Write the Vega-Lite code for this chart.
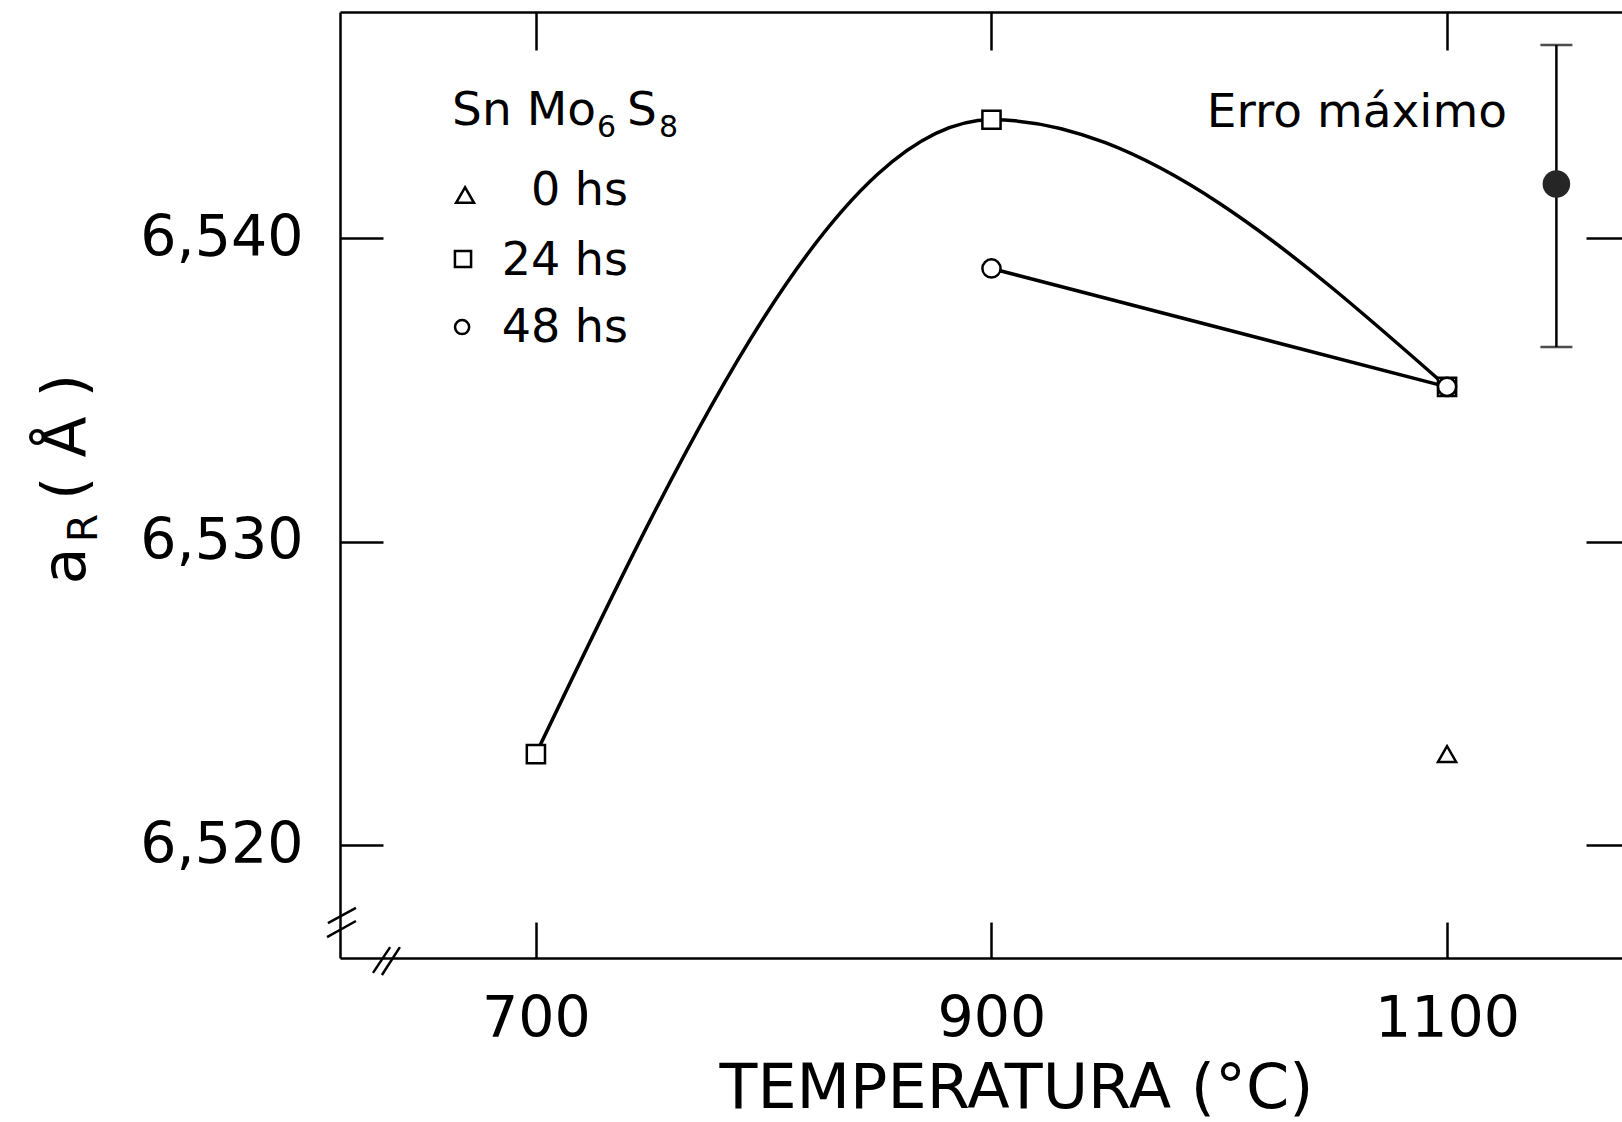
{
  "$schema": "https://vega.github.io/schema/vega-lite/v6.json",
  "width": 1282,
  "height": 946,
  "autosize": {"type": "none"},
  "padding": {"left": 340, "top": 12, "right": 0, "bottom": 164},
  "background": "white",
  "config": {
    "font": "DejaVu Sans",
    "view": {"stroke": null},
    "text": {"font": "DejaVu Sans", "color": "black"},
    "axis": {
      "domainColor": "black",
      "domainWidth": 2.5,
      "tickColor": "black",
      "tickWidth": 2.5,
      "labelColor": "black",
      "titleColor": "black",
      "labelFont": "DejaVu Sans",
      "titleFont": "DejaVu Sans",
      "titleFontWeight": "normal",
      "grid": false
    }
  },
  "data": {"values": [{}]},
  "datasets": {
    "medidas": [
      {"temp": 700, "a": 6.5230, "amostra": "24 hs"},
      {"temp": 900, "a": 6.5439, "amostra": "24 hs"},
      {"temp": 1100, "a": 6.5351, "amostra": "24 hs"},
      {"temp": 900, "a": 6.5390, "amostra": "48 hs"},
      {"temp": 1100, "a": 6.5351, "amostra": "48 hs"},
      {"temp": 1100, "a": 6.5230, "amostra": "0 hs"}
    ],
    "erro": [
      {"temp": 1148, "inferior": 6.53641, "superior": 6.54636, "centro": 6.54178}
    ]
  },
  "resolve": {"axis": {"x": "independent", "y": "independent"}},
  "layer": [
    {
      "data": {"name": "medidas"},
      "transform": [{"filter": "datum.amostra !== '0 hs'"}],
      "mark": {"type": "line", "interpolate": "monotone", "color": "black", "strokeWidth": 3.5},
      "encoding": {
        "x": {
          "field": "temp",
          "type": "quantitative",
          "scale": {"domain": [614, 1176.8], "nice": false, "zero": false},
          "axis": {
            "orient": "bottom",
            "values": [700, 900, 1100],
            "format": "d",
            "tickSize": -36,
            "labelFontSize": 57,
            "labelPadding": 69,
            "labelFlush": false,
            "title": "TEMPERATURA (°C)",
            "titleFontSize": 62,
            "titlePadding": 11,
            "titleX": 676
          }
        },
        "y": {
          "field": "a",
          "type": "quantitative",
          "scale": {"domain": [6.51628, 6.54745], "nice": false, "zero": false},
          "axis": {
            "orient": "left",
            "values": [6.52, 6.53, 6.54],
            "labelExpr": "replace(format(datum.value, '.3f'), '.', ',')",
            "tickSize": -43,
            "labelFontSize": 57,
            "labelPadding": 80,
            "labelFlush": false,
            "title": null
          }
        },
        "detail": {"field": "amostra"}
      }
    },
    {
      "data": {"name": "medidas"},
      "mark": {"type": "point", "filled": true, "fill": "white", "stroke": "black", "strokeWidth": 2.5, "size": 330, "opacity": 1},
      "encoding": {
        "x": {
          "field": "temp",
          "type": "quantitative",
          "axis": {"orient": "top", "values": [700, 900, 1100], "tickSize": -38, "labels": false, "title": null}
        },
        "y": {
          "field": "a",
          "type": "quantitative",
          "axis": {"orient": "right", "values": [6.52, 6.53, 6.54], "tickSize": -36, "labels": false, "domain": false, "title": null}
        },
        "shape": {
          "field": "amostra",
          "type": "nominal",
          "scale": {"domain": ["0 hs", "24 hs", "48 hs"], "range": ["triangle-up", "square", "circle"]},
          "legend": null
        }
      }
    },
    {
      "data": {"name": "erro"},
      "mark": {"type": "rule", "color": "black", "strokeWidth": 2.5},
      "encoding": {
        "x": {"field": "temp", "type": "quantitative", "axis": null},
        "y": {"field": "inferior", "type": "quantitative", "axis": null},
        "y2": {"field": "superior"}
      }
    },
    {
      "data": {"name": "erro"},
      "mark": {"type": "tick", "orient": "horizontal", "size": 32, "thickness": 2.5, "color": "black"},
      "encoding": {
        "x": {"field": "temp", "type": "quantitative", "axis": null},
        "y": {"field": "inferior", "type": "quantitative", "axis": null}
      }
    },
    {
      "data": {"name": "erro"},
      "mark": {"type": "tick", "orient": "horizontal", "size": 32, "thickness": 2.5, "color": "black"},
      "encoding": {
        "x": {"field": "temp", "type": "quantitative", "axis": null},
        "y": {"field": "superior", "type": "quantitative", "axis": null}
      }
    },
    {
      "data": {"name": "erro"},
      "mark": {"type": "point", "filled": true, "color": "#262626", "size": 760, "opacity": 1},
      "encoding": {
        "x": {"field": "temp", "type": "quantitative", "axis": null},
        "y": {"field": "centro", "type": "quantitative", "axis": null}
      }
    },
    {
      "mark": {"type": "text", "text": "Erro máximo", "fontSize": 47, "align": "right", "baseline": "alphabetic"},
      "encoding": {
        "x": {"datum": 1126.3, "type": "quantitative", "axis": null},
        "y": {"datum": 6.54366, "type": "quantitative", "axis": null}
      }
    },
    {
      "mark": {"type": "text", "text": "Sn Mo", "fontSize": 47, "align": "left", "baseline": "alphabetic"},
      "encoding": {
        "x": {"datum": 663.2, "type": "quantitative", "axis": null},
        "y": {"datum": 6.54373, "type": "quantitative", "axis": null}
      }
    },
    {
      "mark": {"type": "text", "text": "6", "fontSize": 30, "align": "left", "baseline": "alphabetic"},
      "encoding": {
        "x": {"datum": 726.8, "type": "quantitative", "axis": null},
        "y": {"datum": 6.54333, "type": "quantitative", "axis": null}
      }
    },
    {
      "mark": {"type": "text", "text": "S", "fontSize": 47, "align": "left", "baseline": "alphabetic"},
      "encoding": {
        "x": {"datum": 740.0, "type": "quantitative", "axis": null},
        "y": {"datum": 6.54373, "type": "quantitative", "axis": null}
      }
    },
    {
      "mark": {"type": "text", "text": "8", "fontSize": 30, "align": "left", "baseline": "alphabetic"},
      "encoding": {
        "x": {"datum": 754.0, "type": "quantitative", "axis": null},
        "y": {"datum": 6.54333, "type": "quantitative", "axis": null}
      }
    },
    {
      "mark": {"type": "point", "shape": "triangle-up", "filled": true, "fill": "white", "stroke": "black", "strokeWidth": 2.5, "size": 320, "opacity": 1},
      "encoding": {
        "x": {"datum": 668.9, "type": "quantitative", "axis": null},
        "y": {"datum": 6.54142, "type": "quantitative", "axis": null}
      }
    },
    {
      "mark": {"type": "point", "shape": "square", "filled": true, "fill": "white", "stroke": "black", "strokeWidth": 2.5, "size": 260, "opacity": 1},
      "encoding": {
        "x": {"datum": 668.0, "type": "quantitative", "axis": null},
        "y": {"datum": 6.53931, "type": "quantitative", "axis": null}
      }
    },
    {
      "mark": {"type": "point", "shape": "circle", "filled": true, "fill": "white", "stroke": "black", "strokeWidth": 2.5, "size": 200, "opacity": 1},
      "encoding": {
        "x": {"datum": 667.6, "type": "quantitative", "axis": null},
        "y": {"datum": 6.53707, "type": "quantitative", "axis": null}
      }
    },
    {
      "mark": {"type": "text", "text": "0 hs", "fontSize": 46, "align": "right", "baseline": "alphabetic"},
      "encoding": {
        "x": {"datum": 740.4, "type": "quantitative", "axis": null},
        "y": {"datum": 6.54109, "type": "quantitative", "axis": null}
      }
    },
    {
      "mark": {"type": "text", "text": "24 hs", "fontSize": 46, "align": "right", "baseline": "alphabetic"},
      "encoding": {
        "x": {"datum": 740.4, "type": "quantitative", "axis": null},
        "y": {"datum": 6.53878, "type": "quantitative", "axis": null}
      }
    },
    {
      "mark": {"type": "text", "text": "48 hs", "fontSize": 46, "align": "right", "baseline": "alphabetic"},
      "encoding": {
        "x": {"datum": 740.4, "type": "quantitative", "axis": null},
        "y": {"datum": 6.53658, "type": "quantitative", "axis": null}
      }
    },
    {
      "mark": {"type": "text", "text": "a", "fontSize": 60, "angle": 270, "align": "center", "baseline": "alphabetic"},
      "encoding": {
        "x": {"datum": 502.1, "type": "quantitative", "axis": null},
        "y": {"datum": 6.5292, "type": "quantitative", "axis": null}
      }
    },
    {
      "mark": {"type": "text", "text": "R", "fontSize": 41, "angle": 270, "align": "center", "baseline": "alphabetic"},
      "encoding": {
        "x": {"datum": 507.3, "type": "quantitative", "axis": null},
        "y": {"datum": 6.53045, "type": "quantitative", "axis": null}
      }
    },
    {
      "mark": {"type": "text", "text": "( Å )", "fontSize": 60, "angle": 270, "align": "center", "baseline": "alphabetic"},
      "encoding": {
        "x": {"datum": 502.1, "type": "quantitative", "axis": null},
        "y": {"datum": 6.53345, "type": "quantitative", "axis": null}
      }
    },
    {
      "mark": {"type": "rule", "color": "black", "strokeWidth": 2.5},
      "encoding": {
        "x": {"datum": 608.7, "type": "quantitative", "axis": null},
        "x2": {"datum": 621.0},
        "y": {"datum": 6.51743, "type": "quantitative", "axis": null},
        "y2": {"datum": 6.51793}
      }
    },
    {
      "mark": {"type": "rule", "color": "black", "strokeWidth": 2.5},
      "encoding": {
        "x": {"datum": 608.3, "type": "quantitative", "axis": null},
        "x2": {"datum": 621.0},
        "y": {"datum": 6.51697, "type": "quantitative", "axis": null},
        "y2": {"datum": 6.5175}
      }
    },
    {
      "mark": {"type": "rule", "color": "black", "strokeWidth": 2.5},
      "encoding": {
        "x": {"datum": 628.5, "type": "quantitative", "axis": null},
        "x2": {"datum": 636.0},
        "y": {"datum": 6.51579, "type": "quantitative", "axis": null},
        "y2": {"datum": 6.51664}
      }
    },
    {
      "mark": {"type": "rule", "color": "black", "strokeWidth": 2.5},
      "encoding": {
        "x": {"datum": 632.4, "type": "quantitative", "axis": null},
        "x2": {"datum": 640.3},
        "y": {"datum": 6.51572, "type": "quantitative", "axis": null},
        "y2": {"datum": 6.51664}
      }
    }
  ]
}
